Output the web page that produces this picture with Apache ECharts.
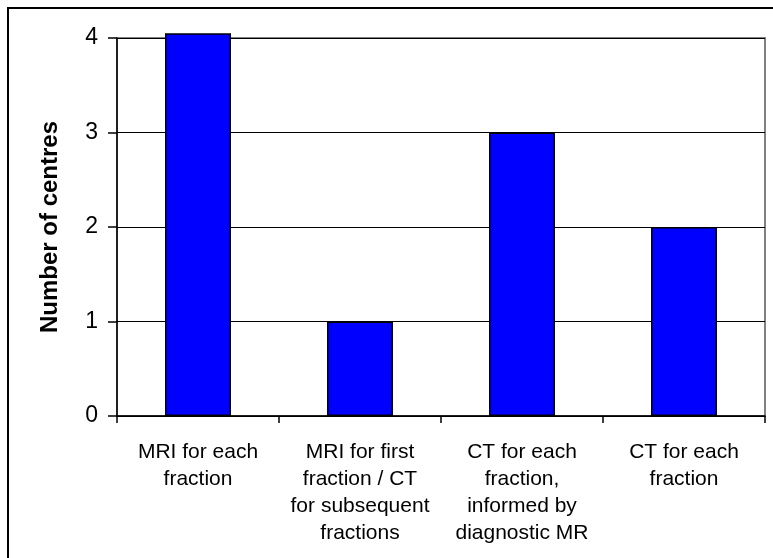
<!DOCTYPE html>
<html>
<head>
<meta charset="utf-8">
<script src="https://cdn.jsdelivr.net/npm/echarts@6/dist/echarts.min.js"></script>
<style>
  html, body { margin: 0; padding: 0; background: #fff; }
  #chart { width: 773px; height: 558px; }
</style>
</head>
<body>
<div id="chart"></div>
<script>
// Imaging approach used per centre
const categories = [
  'MRI for each\nfraction',
  'MRI for first\nfraction / CT\nfor subsequent\nfractions',
  'CT for each\nfraction,\ninformed by\ndiagnostic MR',
  'CT for each\nfraction'
];
const centreCounts = [4.05, 1, 3, 2];
const yTicks = [0, 1, 2, 3, 4];

const chart = echarts.init(document.getElementById('chart'), null, { renderer: 'canvas' });

chart.setOption({
  animation: false,
  backgroundColor: '#ffffff',
  textStyle: { fontFamily: '"Liberation Sans", Arial, sans-serif' },
  graphic: [{
    type: 'rect',
    shape: { x: 8, y: 8, width: 800, height: 600 },
    style: { fill: 'none', stroke: '#000000', lineWidth: 2 },
    silent: true
  }],
  grid: {
    left: 117, right: 8, top: 38, bottom: 142,
    show: true, borderColor: '#808080', borderWidth: 2, backgroundColor: 'transparent'
  },
  xAxis: {
    type: 'category',
    data: categories,
    axisLine: { lineStyle: { color: '#000', width: 1.5 } },
    axisTick: { show: true, length: 7, alignWithLabel: false, lineStyle: { color: '#000', width: 1.5 } },
    axisLabel: {
      color: '#000', fontSize: 21, lineHeight: 27, margin: 23, interval: 0,
      fontFamily: '"Liberation Sans", Arial, sans-serif'
    }
  },
  yAxis: {
    type: 'value',
    min: yTicks[0], max: yTicks[yTicks.length - 1], interval: 1,
    name: 'Number of centres',
    nameLocation: 'middle',
    nameRotate: 90,
    nameGap: 55,
    nameTextStyle: { color: '#000', fontSize: 24, fontWeight: 'bold', fontFamily: '"Liberation Sans", Arial, sans-serif' },
    axisLine: { show: true, lineStyle: { color: '#000', width: 1.5 } },
    axisTick: { show: true, length: 9, lineStyle: { color: '#000', width: 1.5 } },
    axisLabel: { color: '#000', fontSize: 23, margin: 19, fontFamily: '"Liberation Sans", Arial, sans-serif' },
    splitLine: { show: true, lineStyle: { color: '#000', width: 1.2 } }
  },
  series: [{
    type: 'bar',
    data: centreCounts,
    barWidth: 66,
    clip: false,
    itemStyle: { color: '#0000ff', borderColor: '#000', borderWidth: 1.5 }
  }]
});
</script>
</body>
</html>
